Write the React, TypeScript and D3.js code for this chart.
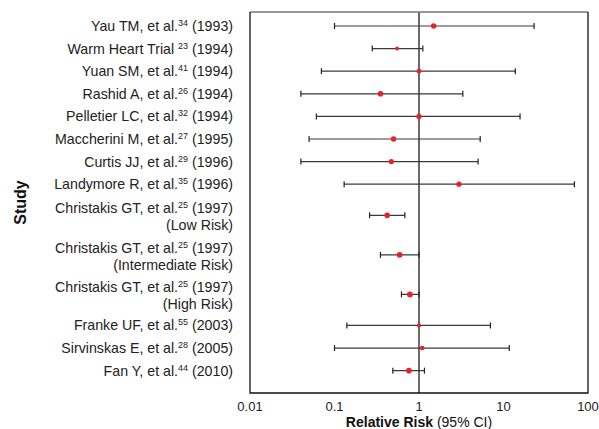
import React, { useRef, useEffect } from 'react';
import * as d3 from 'd3';

// study labels (first line), reference numbers, years, subgroup line
const studyNames = [
  'Yau TM, et al.', 'Warm Heart Trial ', 'Yuan SM, et al.', 'Rashid A, et al.',
  'Pelletier LC, et al.', 'Maccherini M, et al.', 'Curtis JJ, et al.', 'Landymore R, et al.',
  'Christakis GT, et al.', 'Christakis GT, et al.', 'Christakis GT, et al.',
  'Franke UF, et al.', 'Sirvinskas E, et al.', 'Fan Y, et al.',
];
const refNums = ['34', '23', '41', '26', '32', '27', '29', '35', '25', '25', '25', '55', '28', '44'];
const years = ['1993', '1994', '1994', '1994', '1994', '1995', '1996', '1996', '1997', '1997', '1997', '2003', '2005', '2010'];
const subgroups = ['', '', '', '', '', '', '', '', '(Low Risk)', '(Intermediate Risk)', '(High Risk)', '', '', ''];

// relative risk and 95% CI
const rr = [1.49, 0.55, 1.0, 0.35, 1.0, 0.5, 0.47, 2.97, 0.42, 0.59, 0.78, 1.0, 1.09, 0.76];
const lo = [0.1, 0.28, 0.07, 0.04, 0.061, 0.05, 0.04, 0.13, 0.26, 0.35, 0.62, 0.14, 0.1, 0.49];
const hi = [23, 1.11, 13.8, 3.3, 15.7, 5.3, 5.0, 69, 0.68, 1.0, 1.0, 7.0, 11.7, 1.16];
const weight = [2.7, 2.0, 2.4, 2.8, 2.6, 2.7, 2.6, 2.6, 2.8, 2.9, 2.9, 2.1, 2.3, 2.8];

const tickValues = [0.01, 0.1, 1, 10, 100];

const W = 599;
const H = 429;

const ForestPlot = () => {
  const ref = useRef<SVGSVGElement>(null);

  useEffect(() => {
    const svg = d3.select(ref.current);
    svg.selectAll('*').remove();

    const left = 250, right = 588, top = 12, bottom = 393;
    const font = 'Liberation Sans, Arial, sans-serif';

    const x = d3.scaleLog().domain([0.01, 100]).range([left, right]);

    // each row takes 1 unit, two-line rows take 1.75
    const rowH = subgroups.map((s) => (s ? 1.75 : 1));
    const starts: number[] = [];
    rowH.reduce((acc, h) => { starts.push(acc); return acc + h; }, 0);
    const total = d3.sum(rowH);
    const y = d3.scaleLinear().domain([0, total]).range([14.7, 14.7 + total * 22.6]);
    const centre = (i: number) => y(starts[i] + rowH[i] / 2);

    const g = svg.append('g');

    // reference line at RR = 1
    g.append('line')
      .attr('x1', x(1)).attr('x2', x(1))
      .attr('y1', top).attr('y2', bottom)
      .attr('stroke', '#6a6a6a').attr('stroke-width', 2);

    // frame
    g.append('line').attr('x1', left).attr('x2', right).attr('y1', top).attr('y2', top)
      .attr('stroke', '#777').attr('stroke-width', 1.6);
    g.append('path')
      .attr('d', `M${left},${top}V${bottom}H${right}V${top}`)
      .attr('fill', 'none').attr('stroke', '#111').attr('stroke-width', 1.3);

    const rows = g.selectAll('g.row').data(rr).enter().append('g').attr('class', 'row');

    rows.append('line')
      .attr('x1', (_, i) => x(lo[i])).attr('x2', (_, i) => x(hi[i]))
      .attr('y1', (_, i) => centre(i)).attr('y2', (_, i) => centre(i))
      .attr('stroke', '#3a3a3a').attr('stroke-width', 1.2);

    [lo, hi].forEach((arr) => {
      rows.append('line')
        .attr('x1', (_, i) => x(arr[i])).attr('x2', (_, i) => x(arr[i]))
        .attr('y1', (_, i) => centre(i) - 3).attr('y2', (_, i) => centre(i) + 3)
        .attr('stroke', '#222').attr('stroke-width', 1.2);
    });

    rows.append('circle')
      .attr('cx', (d) => x(d)).attr('cy', (_, i) => centre(i))
      .attr('r', (_, i) => weight[i])
      .attr('fill', '#e8212b');

    // study labels
    const labels = g.selectAll('text.lab').data(studyNames).enter().append('text')
      .attr('class', 'lab')
      .attr('x', 233)
      .attr('y', (_, i) => (subgroups[i] ? centre(i) - 7 : centre(i)) + 5)
      .attr('text-anchor', 'end')
      .attr('font-family', font).attr('font-size', 14.2).attr('fill', '#222');
    labels.append('tspan').text((d) => d);
    labels.append('tspan').attr('font-size', 9).attr('dy', -5).text((_, i) => refNums[i]);
    labels.append('tspan').attr('dy', 5).text((_, i) => ` (${years[i]})`);

    g.selectAll('text.sub').data(subgroups.map((s, i) => ({ s, i })).filter((d) => d.s))
      .enter().append('text')
      .attr('class', 'sub')
      .attr('x', 233)
      .attr('y', (d) => centre(d.i) + 10 + 5)
      .attr('text-anchor', 'end')
      .attr('font-family', font).attr('font-size', 14.2).attr('fill', '#222')
      .text((d) => d.s);

    // x tick labels
    g.selectAll('text.tick').data(tickValues).enter().append('text')
      .attr('class', 'tick')
      .attr('x', (d) => x(d)).attr('y', 410.5)
      .attr('text-anchor', 'middle')
      .attr('font-family', font).attr('font-size', 13).attr('fill', '#222')
      .text((d) => String(d));

    // axis titles
    const xt = g.append('text')
      .attr('x', x(1)).attr('y', 426.5)
      .attr('text-anchor', 'middle')
      .attr('font-family', font).attr('font-size', 14).attr('fill', '#111');
    xt.append('tspan').attr('font-weight', 'bold').text('Relative Risk');
    xt.append('tspan').text(' (95% CI)');

    g.append('text')
      .attr('transform', `translate(26,${(top + bottom) / 2}) rotate(-90)`)
      .attr('text-anchor', 'middle')
      .attr('font-family', font).attr('font-size', 16).attr('font-weight', 'bold').attr('fill', '#111')
      .text('Study');
  }, []);

  return <svg ref={ref} width={W} height={H} style={{ position: 'absolute', left: 0, top: 0, background: 'white' }} />;
};

export default function App() {
  return <ForestPlot />;
}
